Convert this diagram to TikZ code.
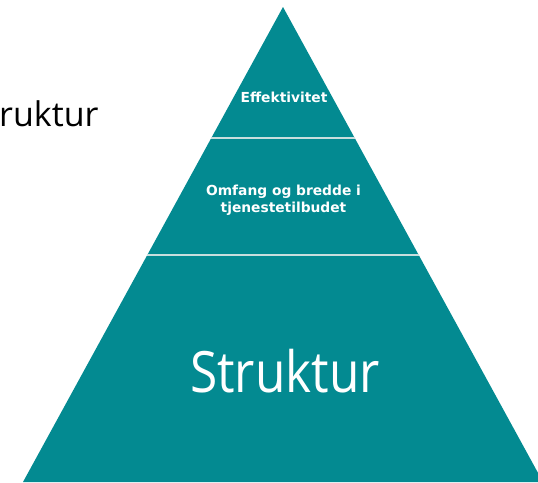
\documentclass[tikz,border=0pt]{standalone}
\usepackage{fontspec}
\usepackage{tikz}
\usetikzlibrary{positioning}
\newfontfamily\labelfont{DejaVu Sans}
\newfontfamily\titlefont[FakeStretch=0.87]{Open Sans}
\newfontfamily\sidefont{Open Sans}
\definecolor{pyramidcolor}{RGB}{3,138,145}
\definecolor{dividercolor}{RGB}{200,222,222}

\begin{document}
\begin{tikzpicture}[
    x=1pt, y=-1pt,
    level/.style={fill=pyramidcolor, draw=none},
    divider/.style={draw=dividercolor, line width=1.4pt},
    smalllabel/.style={text=white, inner sep=0pt, align=center, font=\labelfont\bfseries\fontsize{13.8}{17}\selectfont},
    biglabel/.style={text=white, inner sep=0pt, font=\titlefont\fontsize{57}{60}\selectfont},
    sidelabel/.style={text=black, inner sep=0pt, font=\sidefont\fontsize{34}{36}\selectfont}
]
    \clip (0,0) rectangle (538,482);

    % Corners
    \coordinate (apex) at (283,7);
    \coordinate (topleft) at (211.3,138);
    \coordinate (topright) at (354.7,138);
    \coordinate (midleft) at (147.3,255);
    \coordinate (midright) at (418.7,255);
    \coordinate (baseleft) at (23,482);
    \coordinate (baseright) at (543,482);

    % Levels
    \fill[level] (apex) -- (topright) -- (topleft) -- cycle;
    \fill[level] (topleft) -- (topright) -- (midright) -- (midleft) -- cycle;
    \fill[level] (midleft) -- (midright) -- (baseright) -- (baseleft) -- cycle;

    % Dividers
    \draw[divider] (topleft) -- (topright);
    \draw[divider] (midleft) -- (midright);

    % Labels
    \node[smalllabel, anchor=base] (effektivitet) at (284,102) {Effektivitet};
    \node[smalllabel] (omfang) at (283.5,200) {Omfang og bredde i\\tjenestetilbudet};
    \node[biglabel, anchor=base] (struktur) at (285,392) {Struktur};
    \node[sidelabel, anchor=base west] (side) at (-1,126) {ruktur};
\end{tikzpicture}
\end{document}
